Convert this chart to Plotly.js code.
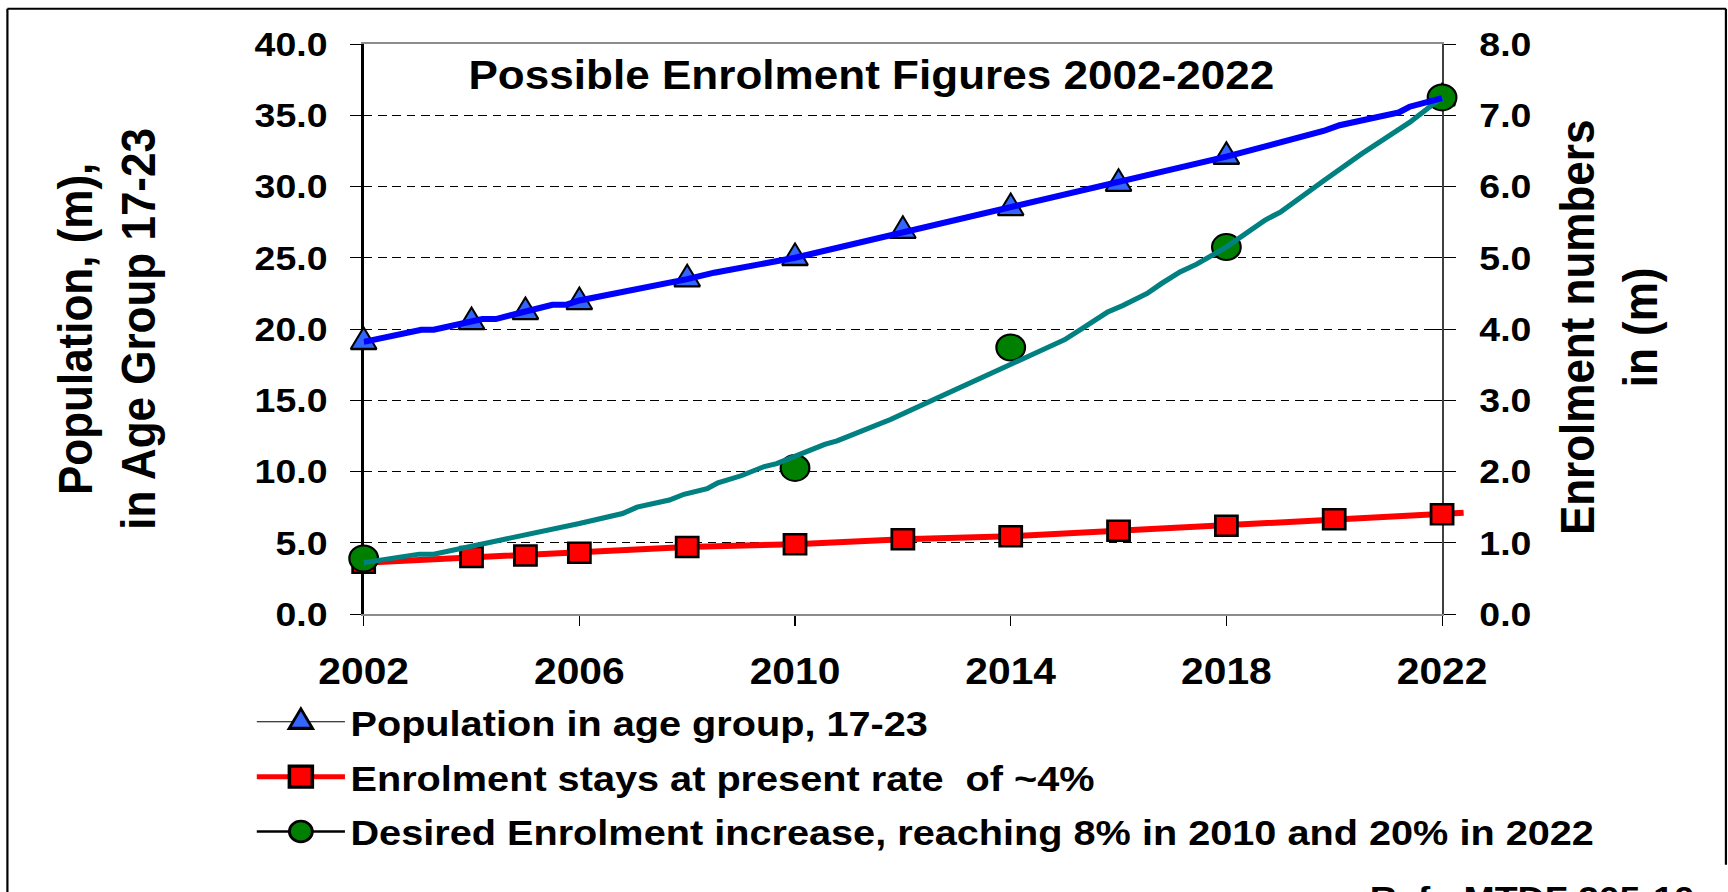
<!DOCTYPE html>
<html>
<head>
<meta charset="utf-8">
<script src="https://cdn.plot.ly/plotly-3.0.1.min.js"></script>
<style>
  html, body { margin: 0; padding: 0; background: #fff; overflow: hidden; }
  #wrap { width: 1568px; height: 892px; transform: scaleX(1.10204); transform-origin: 0 0; }
  #chart { width: 1568px; height: 892px; }
</style>
</head>
<body>
<div id="wrap"><div id="chart"></div></div>
<script>
// ---------------- data ----------------
const chartTitle = 'Possible Enrolment Figures 2002-2022';
const leftAxisTitle = 'Population, (m),<br>in Age Group 17-23';
const rightAxisTitle = 'Enrolment numbers<br>in (m)';
const refText = 'Ref.: MTDF 205-10';

const seriesNames = [
  'Population in age group, 17-23',
  'Enrolment stays at present rate  of ~4%',
  'Desired Enrolment increase, reaching 8% in 2010 and 20% in 2022'
];

const xTickYears = [2002, 2006, 2010, 2014, 2018, 2022];

// Population in age group 17-23 (millions, left axis)
const popLineYears  = [2002, 2003.07, 2003.3, 2004, 2004.2, 2004.45, 2005, 2005.5, 2005.75, 2006, 2008, 2008.5, 2010, 2012, 2014, 2015.4, 2015.55, 2016, 2018, 2019.8, 2020.1, 2021.2, 2021.4, 2022];
const popLineValues = [19.1, 19.95, 19.95, 20.5, 20.7, 20.7, 21.2, 21.7, 21.7, 22.0, 23.5, 23.95, 25.0, 26.8, 28.6, 29.85, 30.0, 30.3, 32.1, 33.9, 34.3, 35.2, 35.6, 36.2];
const popMarkYears  = [2002, 2004, 2005, 2006, 2008, 2010, 2012, 2014, 2016, 2018, 2022];
const popMarkValues = [19.1, 20.5, 21.2, 21.9, 23.5, 25.0, 26.9, 28.5, 30.2, 32.1, 36.2];

// Enrolment stays at present rate (millions, right axis)
const constMarkYears  = [2002, 2004, 2005, 2006, 2008, 2010, 2012, 2014, 2016, 2018, 2020, 2022];
const constMarkValues = [0.72, 0.80, 0.82, 0.86, 0.94, 0.98, 1.05, 1.09, 1.17, 1.24, 1.33, 1.40];
const constLineYears  = [2002, 2004, 2005, 2006, 2008, 2010, 2012, 2014, 2016, 2018, 2020, 2022, 2022.4];
const constLineValues = [0.72, 0.80, 0.82, 0.86, 0.94, 0.98, 1.05, 1.09, 1.17, 1.24, 1.33, 1.40, 1.42];

// Desired enrolment increase (millions, right axis)
const desiredLineYears  = [2002, 2002.6, 2002.8, 2003.03, 2003.3, 2004.0, 2004.16, 2006.0, 2006.8, 2007.07, 2007.67, 2007.94, 2008.37, 2008.57, 2009.0, 2009.43, 2009.66, 2010.0, 2010.55, 2010.78, 2011.45, 2011.77, 2012.95, 2013.98, 2014.33, 2015.0, 2015.29, 2015.8, 2016.08, 2016.53, 2016.8, 2017.14, 2017.45, 2018.0, 2018.72, 2019.0, 2019.82, 2020.51, 2021.4, 2022];
const desiredLineValues = [0.72, 0.80, 0.81, 0.84, 0.84, 0.95, 0.97, 1.27, 1.41, 1.50, 1.60, 1.68, 1.76, 1.84, 1.94, 2.07, 2.11, 2.22, 2.38, 2.43, 2.64, 2.73, 3.14, 3.49, 3.62, 3.85, 3.99, 4.24, 4.33, 4.50, 4.64, 4.80, 4.91, 5.15, 5.53, 5.64, 6.09, 6.46, 6.90, 7.25];
const desiredMarkYears  = [2002, 2010, 2014, 2018, 2022];
const desiredMarkValues = [0.78, 2.05, 3.74, 5.15, 7.25];

// ---------------- layout geometry (base px, before horizontal stretch) ----------------
const W = 1568, H = 892;
const L = 330, T = 43.5, B = 614;          // plot left, top, bottom
const pxPerYear = 978.6 / 20;
const dataXMax = 2022.5;
const PW = pxPerYear * (dataXMax - 2002);   // width of data subplot
const PH = B - T;
const px = v => (v - L) / PW;
const py = v => (B - v) / PH;

const FONT = 'Liberation Sans, Arial, Helvetica, sans-serif';
const bold = (size) => ({ family: FONT, size: size, color: '#000', weight: 700 });

const triMarker = { symbol: 'triangle-up', size: 24, color: '#3366FF', line: { color: '#000', width: 2 } };
const sqMarker  = { symbol: 'square', size: 20, color: '#FF0000', line: { color: '#000', width: 2.5 } };
const ciMarker  = { symbol: 'circle', size: 26, color: '#008000', line: { color: '#000', width: 2 } };

const traces = [
  // empty traces that carry the visible axes (x / y / y2 / y6)
  { x: [null], y: [null], xaxis: 'x', yaxis: 'y', mode: 'lines', showlegend: false },
  { x: [null], y: [null], xaxis: 'x', yaxis: 'y2', mode: 'lines', showlegend: false },
  { x: [null], y: [null], xaxis: 'x', yaxis: 'y6', mode: 'lines', showlegend: false },
  // blue triangles (left scale)
  { x: popMarkYears, y: popMarkValues, xaxis: 'x3', yaxis: 'y3', mode: 'markers', showlegend: false, cliponaxis: false,
    marker: triMarker },
  // red line + squares (right scale)
  { x: constLineYears, y: constLineValues, xaxis: 'x3', yaxis: 'y4', mode: 'lines', showlegend: false,
    line: { color: '#FF0000', width: 6 } },
  { x: constMarkYears, y: constMarkValues, xaxis: 'x3', yaxis: 'y4', mode: 'markers', showlegend: false, cliponaxis: false,
    marker: sqMarker },
  // green circles
  { x: desiredMarkYears, y: desiredMarkValues, xaxis: 'x3', yaxis: 'y4', mode: 'markers', showlegend: false, cliponaxis: false,
    marker: ciMarker },
  // teal line
  { x: desiredLineYears, y: desiredLineValues, xaxis: 'x3', yaxis: 'y4', mode: 'lines', showlegend: false,
    line: { color: '#008080', width: 5 } },
  // blue line (left scale, drawn on top)
  { x: popLineYears, y: popLineValues, xaxis: 'x3', yaxis: 'y5', mode: 'lines', showlegend: false,
    line: { color: '#0000FF', width: 6 } },
  // legend entries
  { x: [null], y: [null], xaxis: 'x3', yaxis: 'y3', mode: 'lines+markers', name: seriesNames[0], legendgroup: 'a',
    line: { color: '#000', width: 1 }, marker: triMarker },
  { x: [null], y: [null], xaxis: 'x3', yaxis: 'y3', mode: 'lines+markers', name: seriesNames[1], legendgroup: 'b',
    line: { color: '#FF0000', width: 5 }, marker: sqMarker },
  { x: [null], y: [null], xaxis: 'x3', yaxis: 'y3', mode: 'lines+markers', name: seriesNames[2], legendgroup: 'c',
    line: { color: '#000', width: 2.5 }, marker: ciMarker }
];

const axisDomainX = (2022 - 2002) / (dataXMax - 2002);

const layout = {
  width: W, height: H,
  margin: { l: L, r: W - L - PW, t: T, b: H - B, pad: 0 },
  paper_bgcolor: '#fff', plot_bgcolor: 'rgba(0,0,0,0)',
  showlegend: true,
  hovermode: false,
  xaxis: {
    domain: [0, axisDomainX], range: [2002, 2022], anchor: 'y',
    tickmode: 'array', tickvals: xTickYears, ticktext: xTickYears.map(String),
    ticks: 'outside', ticklen: 10, tickwidth: 1, tickcolor: '#000',
    ticklabelstandoff: 14,
    showgrid: false, zeroline: false,
    showline: true, linecolor: '#8c8c8c', linewidth: 2, mirror: true,
    tickfont: bold(37), fixedrange: true
  },
  yaxis: {
    range: [0, 40], dtick: 5, tick0: 0, tickformat: '.1f', anchor: 'x',
    ticks: 'outside', ticklen: 10, tickwidth: 1, tickcolor: '#000',
    ticklabelstandoff: 14,
    showgrid: true, gridcolor: '#000', gridwidth: 1, griddash: '8px,5px',
    zeroline: false,
    showline: true, linecolor: '#000', linewidth: 2,
    tickfont: bold(34), fixedrange: true
  },
  yaxis2: {
    range: [0, 8], dtick: 1, tick0: 0, tickformat: '.1f',
    overlaying: 'y', side: 'right', anchor: 'x',
    ticks: 'outside', ticklen: 11, tickwidth: 1, tickcolor: '#000',
    ticklabelstandoff: 14,
    showgrid: false, zeroline: false,
    showline: true, linecolor: '#404040', linewidth: 2,
    tickfont: bold(34), fixedrange: true
  },
  yaxis6: {
    range: [0, 8], dtick: 1, tick0: 0,
    overlaying: 'y', side: 'right', anchor: 'x',
    ticks: 'inside', ticklen: 12, tickwidth: 1, tickcolor: '#000',
    showticklabels: false, showgrid: false, zeroline: false, showline: false, fixedrange: true
  },
  xaxis3: { domain: [0, 1], range: [2002, dataXMax], anchor: 'y3', visible: false, fixedrange: true },
  yaxis3: { domain: [0, 1], range: [0, 40], anchor: 'x3', visible: false, fixedrange: true },
  yaxis4: { range: [0, 8], overlaying: 'y3', anchor: 'x3', visible: false, fixedrange: true },
  yaxis5: { range: [0, 40], overlaying: 'y3', anchor: 'x3', visible: false, fixedrange: true },
  legend: {
    x: px(228), y: py(692), xanchor: 'left', yanchor: 'top',
    orientation: 'v', traceorder: 'grouped', tracegroupgap: 5,
    itemwidth: 80, bgcolor: 'rgba(0,0,0,0)', borderwidth: 0,
    font: bold(36)
  },
  annotations: [
    { text: chartTitle, xref: 'paper', yref: 'paper', x: px(790.5), y: py(75), xanchor: 'center', yanchor: 'middle',
      showarrow: false, font: bold(40) },
    { text: leftAxisTitle, xref: 'paper', yref: 'paper', x: px(96.5), y: py(329), xanchor: 'center', yanchor: 'middle',
      textangle: -90, showarrow: false, font: bold(44) },
    { text: rightAxisTitle, xref: 'paper', yref: 'paper', x: px(1460), y: py(327), xanchor: 'center', yanchor: 'middle',
      textangle: -90, showarrow: false, font: bold(44) },
    { text: refText, xref: 'paper', yref: 'paper', x: px(1241), y: py(877), xanchor: 'left', yanchor: 'top',
      showarrow: false, font: bold(34) }
  ],
  shapes: [
    { type: 'line', xref: 'paper', yref: 'paper', x0: px(6.7), x1: px(6.7), y0: py(8.3), y1: py(900), line: { color: '#000', width: 2 } },
    { type: 'line', xref: 'paper', yref: 'paper', x0: px(6.7), x1: px(1566.2), y0: py(8.3), y1: py(8.3), line: { color: '#000', width: 2 } },
    { type: 'line', xref: 'paper', yref: 'paper', x0: px(1566.2), x1: px(1566.2), y0: py(8.3), y1: py(865), line: { color: '#000', width: 2 } }
  ]
};

Plotly.newPlot('chart', traces, layout, { displayModeBar: false, staticPlot: true }).then(gd => {
  const isTriangle = el => { const d = el.getAttribute('d') || ''; return d.startsWith('M-') && d.indexOf('H') > 0; };
  const addScale = (el, s) => {
    const t = el.getAttribute('transform') || '';
    el.setAttribute('transform', (t + ' scale(' + s + ')').trim());
  };
  // plot markers: make the triangles taller (Excel-like equilateral look)
  gd.querySelectorAll('.scatterlayer path.point').forEach(p => {
    if (isTriangle(p)) addScale(p, '0.85,1.2');
  });
  // legend symbols: Plotly caps them at 16px, enlarge to match the chart markers
  gd.querySelectorAll('.legend path.scatterpts').forEach(p => {
    addScale(p, isTriangle(p) ? '1.15,1.65' : '1.3');
  });
});
</script>
</body>
</html>
